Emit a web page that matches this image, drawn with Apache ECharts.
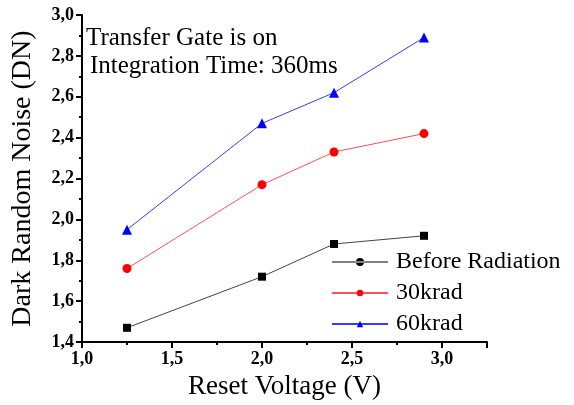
<!DOCTYPE html>
<html>
<head>
<meta charset="utf-8">
<script src="https://cdn.jsdelivr.net/npm/echarts@6/dist/echarts.min.js"></script>
<style>
  html, body { margin: 0; padding: 0; background: #fff; }
  #chart { width: 574px; height: 405px; }
</style>
</head>
<body>
<div id="chart"></div>
<script>
// reset voltage (V)
var voltages = [1.25, 2.0, 2.4, 2.9];
var before_radiation = [1.47, 1.72, 1.88, 1.92];
var krad30 = [1.76, 2.17, 2.33, 2.42];
var krad60 = [1.95, 2.47, 2.62, 2.89];
var series_names = ["Before Radiation", "30krad", "60krad"];

function pairs(ys)
{
    var out = [];
    for (var i = 0; i < voltages.length; i++) {
        out.push([voltages[i], ys[i]]);
    }
    return out;
}

function comma_label(v)
{
    if (v > 3.01) return "";
    return v.toFixed(1).replace(".", ",");
}

var serif = "Liberation Serif";

// legend icon: thin line with a dot in the middle (the black legend uses a dot, not a square)
var line_dot_icon = "path://M0,3.5L56,3.5L56,4.5L0,4.5Z M24,4A4,4 0 1,0 32,4A4,4 0 1,0 24,4Z";

var axis_common = {
    axisLine: { show: true, onZero: false, lineStyle: { color: "#000", width: 2 } },
    axisTick: { show: true, inside: false, length: 6, lineStyle: { color: "#000", width: 2 } },
    minorTick: { show: true, splitNumber: 2, length: 3, lineStyle: { color: "#000", width: 2 } },
    splitLine: { show: false },
    nameTextStyle: { fontFamily: serif, fontSize: 27, color: "#000" }
};

var tick_label = { formatter: comma_label, fontFamily: serif, fontWeight: "bold", fontSize: 18, color: "#000", margin: 8 };

var chart = echarts.init(document.getElementById("chart"));

var option = {
    animation: false,
    backgroundColor: "#fff",
    grid: { left: 82, right: 87, top: 15, bottom: 62, containLabel: false },
    xAxis: Object.assign({}, axis_common, {
        type: "value",
        min: 1.0,
        max: 3.25,
        interval: 0.5,
        name: "Reset Voltage (V)",
        nameLocation: "middle",
        nameGap: 29,
        axisLabel: tick_label
    }),
    yAxis: Object.assign({}, axis_common, {
        type: "value",
        min: 1.4,
        max: 3.0,
        interval: 0.2,
        name: "Dark Random Noise (DN)",
        nameLocation: "middle",
        nameGap: 45,
        nameTextStyle: { fontFamily: serif, fontSize: 28, color: "#000" },
        axisLabel: tick_label
    }),
    legend: {
        orient: "vertical",
        left: 326,
        top: 245,
        itemWidth: 56,
        itemHeight: 8,
        itemGap: 7,
        textStyle: { fontFamily: serif, fontSize: 24, lineHeight: 24, color: "#000", padding: [0, 0, 0, 3] },
        data: [
            { name: series_names[0], icon: line_dot_icon },
            { name: series_names[1] },
            { name: series_names[2] }
        ]
    },
    graphic: [
        {
            type: "text",
            left: 86,
            top: 26,
            style: { text: "Transfer Gate is on", font: "25px " + serif, fill: "#000" }
        },
        {
            type: "text",
            left: 90,
            top: 54,
            style: { text: "Integration Time: 360ms", font: "25px " + serif, fill: "#000" }
        }
    ],
    series: [
        {
            name: series_names[0],
            type: "line",
            data: pairs(before_radiation),
            symbol: "rect",
            symbolSize: 8,
            itemStyle: { color: "#000" },
            lineStyle: { color: "#444", width: 1 }
        },
        {
            name: series_names[1],
            type: "line",
            data: pairs(krad30),
            symbol: "circle",
            symbolSize: 9,
            itemStyle: { color: "#ff0000" },
            lineStyle: { color: "#ff5050", width: 1 }
        },
        {
            name: series_names[2],
            type: "line",
            data: pairs(krad60),
            symbol: "triangle",
            symbolSize: 10,
            itemStyle: { color: "#0000ff" },
            lineStyle: { color: "#3a3aff", width: 1 }
        }
    ]
};

chart.setOption(option);
</script>
</body>
</html>
